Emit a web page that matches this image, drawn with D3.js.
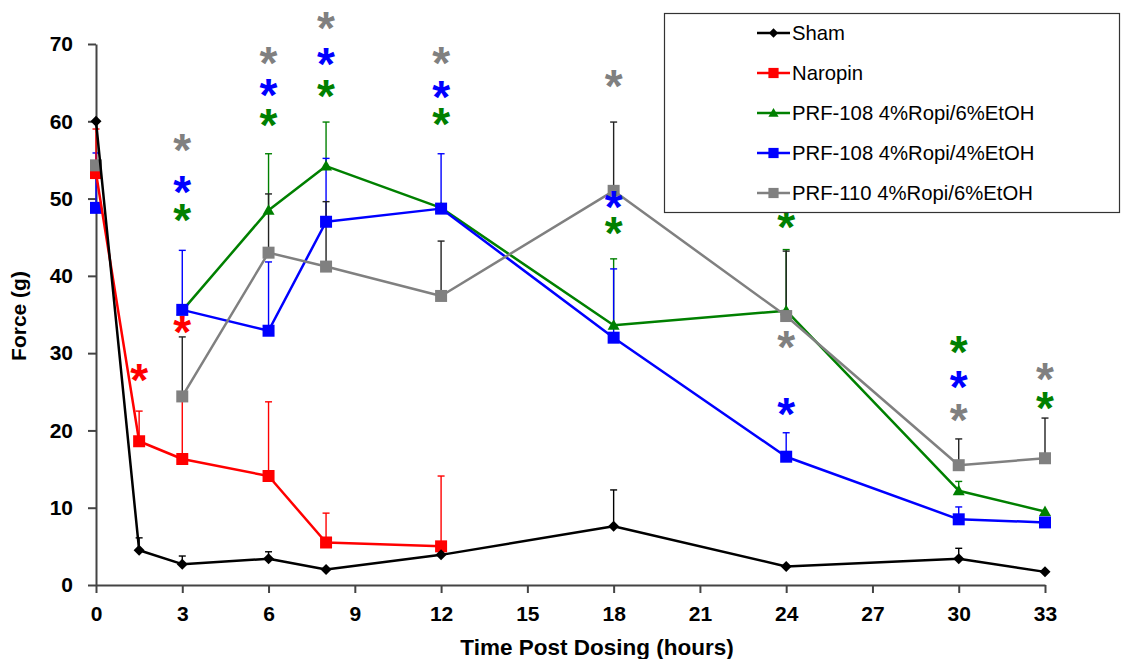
<!DOCTYPE html>
<html><head><meta charset="utf-8">
<script src="https://cdn.jsdelivr.net/npm/d3@7"></script>
<style>body{margin:0;background:#fff}svg{display:block}</style>
</head><body>
<svg id="c" width="1121" height="659"></svg>
<script>
// ---------- data ----------
const xTicks = [0,3,6,9,12,15,18,21,24,27,30,33];
const yTicks = [0,10,20,30,40,50,60,70];
const seriesNames = ["Sham","Naropin","PRF-108 4%Ropi/6%EtOH","PRF-108 4%Ropi/4%EtOH","PRF-110 4%Ropi/6%EtOH"];

const shamTimes   = [0,1.5,3,6,8,12,18,24,30,33];
const shamValues  = [60,4.5,2.7,3.4,2.0,3.9,7.6,2.4,3.4,1.7];
const shamErrTop  = [null,6.1,3.75,4.3,null,null,12.3,null,4.75,null];

const naropinTimes  = [0,1.5,3,6,8,12];
const naropinValues = [53.3,18.6,16.3,14.1,5.5,5.0];
const naropinErrTop = [59,22.5,24,23.7,9.3,14.1];

const prf108e6Times  = [3,6,8,12,18,24,30,33];
const prf108e6Values = [35.5,48.5,54.2,48.8,33.6,35.5,12.2,9.5];
const prf108e6ErrTop = [null,55.8,59.9,null,42.2,43.4,13.4,null];

const prf108e4Times  = [0,3,6,8,12,18,24,30,33];
const prf108e4Values = [48.8,35.6,32.9,47.0,48.7,32.0,16.6,8.5,8.1];
const prf108e4ErrTop = [55.9,43.3,41.8,55.2,55.8,40.9,19.7,10.1,null];

const prf110Times  = [0,3,6,8,12,18,24,30,33];
const prf110Values = [54.3,24.4,43.0,41.2,37.4,51.0,34.8,15.5,16.4];
const prf110ErrTop = [null,32.1,50.6,49.6,44.5,59.9,43.2,18.9,21.6];

// pre-dose baseline point (t=0) is drawn unconnected for the PRF series
const prfLineStartTime = 3;

// significance asterisks (time, height in g)
const starRedTimes   = [1.5,3];
const starRedValues  = [27.4,33.6];
const starGreenTimes = [3,6,8,12,18,24,30,33];
const starGreenValues= [48.1,60.4,64.2,60.5,46.4,47.2,31.0,23.8];
const starBlueTimes  = [3,6,8,12,18,24,30];
const starBlueValues = [51.7,64.3,68.3,64.0,49.8,23.0,26.5];
const starGrayTimes  = [3,6,8,12,18,24,30,33];
const starGrayValues = [57.2,68.4,73.0,68.4,65.5,31.7,22.2,27.5];

// ---------- setup ----------
const svg = d3.select("#c");
const x = d3.scaleLinear().domain([0,33]).range([96,1045]);
const y = d3.scaleLinear().domain([0,70]).range([585,44]);

const FONT = "'Liberation Sans', Arial, sans-serif";
const GREEN = "#008000", BLUE = "#0000ff", RED = "#ff0000", GRAY = "#808080";

const series = [
  {name:seriesNames[2], t:prf108e6Times, v:prf108e6Values, e:prf108e6ErrTop, color:GREEN, ecolor:GREEN, marker:"tri", from:prfLineStartTime},
  {name:seriesNames[3], t:prf108e4Times, v:prf108e4Values, e:prf108e4ErrTop, color:BLUE, ecolor:BLUE, marker:"sq", from:prfLineStartTime},
  {name:seriesNames[1], t:naropinTimes, v:naropinValues, e:naropinErrTop, color:RED, ecolor:RED, marker:"sq", from:0},
  {name:seriesNames[4], t:prf110Times, v:prf110Values, e:prf110ErrTop, color:GRAY, ecolor:"#222", marker:"sq", from:prfLineStartTime},
  {name:seriesNames[0], t:shamTimes, v:shamValues, e:shamErrTop, color:"#000", ecolor:"#000", marker:"dia", from:0}
];

function markerPath(m){
  if(m==="sq") return "M-6,-6H6V6H-6Z";
  if(m==="tri") return "M0,-6L6,4.5H-6Z";
  return "M0,-5.5L5.5,0L0,5.5L-5.5,0Z";
}

// ---------- axes ----------
const yAxis = svg.append("g").attr("transform","translate(96,0)")
  .call(d3.axisLeft(y).tickValues(yTicks).tickSize(8).tickSizeOuter(0).tickPadding(15));
const xAxis = svg.append("g").attr("transform","translate(0,585)")
  .call(d3.axisBottom(x).tickValues(xTicks).tickSize(8).tickSizeOuter(0).tickPadding(13));
[yAxis,xAxis].forEach(a=>{
  a.select(".domain").attr("stroke","#444").attr("stroke-width",2);
  a.selectAll(".tick line").attr("stroke","#444").attr("stroke-width",2);
  a.selectAll(".tick text").attr("font-family",FONT).attr("font-weight","bold")
   .attr("font-size",21).attr("fill","#000");
});

svg.append("text").attr("transform","translate(26,316) rotate(-90)")
  .attr("text-anchor","middle").attr("font-family",FONT).attr("font-weight","bold")
  .attr("font-size",21).text("Force (g)");
svg.append("text").attr("x",597).attr("y",655)
  .attr("text-anchor","middle").attr("font-family",FONT).attr("font-weight","bold")
  .attr("font-size",22.5).text("Time Post Dosing (hours)");

// ---------- error bars ----------
const eb = svg.append("g");
series.forEach(s=>{
  s.t.forEach((t,i)=>{
    if(s.e[i]==null) return;
    const xi=x(t), y0=y(s.v[i]), y1=y(s.e[i]);
    eb.append("line").attr("x1",xi).attr("x2",xi).attr("y1",y0).attr("y2",y1)
      .attr("stroke",s.ecolor).attr("stroke-width",1.4);
    eb.append("line").attr("x1",xi-3.5).attr("x2",xi+3.5).attr("y1",y1).attr("y2",y1)
      .attr("stroke",s.ecolor).attr("stroke-width",1.4);
  });
});

// ---------- lines & markers ----------
const line = d3.line().x(d=>x(d[0])).y(d=>y(d[1]));
series.forEach(s=>{
  const pts = s.t.map((t,i)=>[t,s.v[i]]);
  svg.append("path").datum(pts.filter(d=>d[0]>=s.from)).attr("d",line).attr("fill","none")
    .attr("stroke",s.color).attr("stroke-width",2.5).attr("stroke-linejoin","round");
  svg.append("g").selectAll("path").data(pts).join("path")
    .attr("d",markerPath(s.marker))
    .attr("transform",d=>`translate(${x(d[0])},${y(d[1])})`)
    .attr("fill",s.color);
});

// ---------- asterisks ----------
const STAR_FS = 46;
const stars = [
  {t:starRedTimes, v:starRedValues, c:RED},
  {t:starGreenTimes, v:starGreenValues, c:GREEN},
  {t:starBlueTimes, v:starBlueValues, c:BLUE},
  {t:starGrayTimes, v:starGrayValues, c:GRAY}
];
stars.forEach(s=>{
  s.t.forEach((t,i)=>{
    svg.append("text").attr("x",x(t)).attr("y",y(s.v[i])+STAR_FS*0.5)
      .attr("text-anchor","middle").attr("font-family",FONT).attr("font-weight","bold")
      .attr("font-size",STAR_FS).attr("fill",s.c).text("*");
  });
});

// ---------- legend ----------
const lg = svg.append("g");
lg.append("rect").attr("x",664.5).attr("y",13.5).attr("width",455).attr("height",199)
  .attr("fill","#fff").attr("stroke","#333").attr("stroke-width",1.2);
const legendOrder = [4,2,0,1,3]; // indices in series array: Sham, Naropin, green, blue, gray
legendOrder.forEach((si,k)=>{
  const s = series[si];
  const cy = 33 + k*40;
  lg.append("line").attr("x1",757).attr("x2",790).attr("y1",cy).attr("y2",cy)
    .attr("stroke",s.color).attr("stroke-width",2.5);
  lg.append("path").attr("d",markerPath(s.marker)).attr("transform",`translate(773.5,${cy}) scale(0.85)`)
    .attr("fill",s.color);
  lg.append("text").attr("x",792).attr("y",cy+7).attr("font-family",FONT)
    .attr("font-size",20.3).attr("fill","#000").text(s.name);
});
</script>
</body></html>
